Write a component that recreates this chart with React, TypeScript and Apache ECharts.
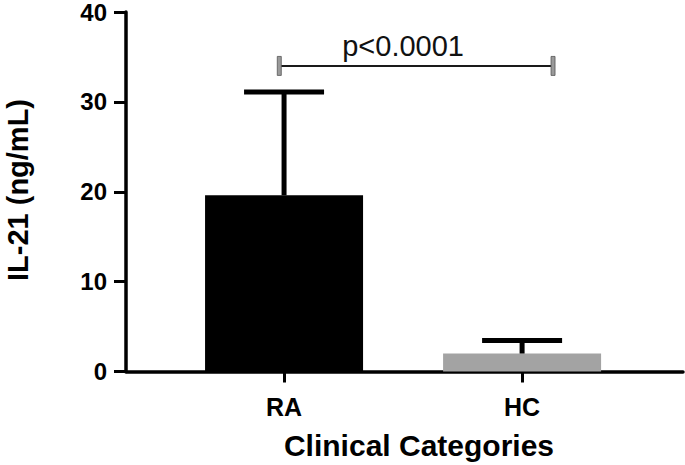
import React, { useEffect, useRef } from "react";
import * as echarts from "echarts";

const categories = ["RA", "HC"];
const categoryPositions = [1, 2];
const means = [19.6, 2.0];
const upperErrors = [31.1, 3.45];
const barColors = ["#000000", "#a3a3a3"];
const yTicks = [0, 10, 20, 30, 40];
const bracketX = [0.98, 2.13];
const bracketY = 34;
const pLabelX = 1.5;
const pLabel = "p<0.0001";
const yTitle = "IL-21 (ng/mL)";
const xTitle = "Clinical Categories";

const FONT = '"Liberation Sans", Arial, Helvetica, sans-serif';

export default function App() {
  const ref = useRef<HTMLDivElement>(null);
  useEffect(() => {
    if (!ref.current) return;
    const chart = echarts.init(ref.current, null, { renderer: "svg" });
    const barData = categoryPositions.map((x, i) => ({
      value: [x, means[i]],
      itemStyle: { color: barColors[i] },
    }));
    const errData = categoryPositions.map((x, i) => [x, means[i], upperErrors[i]]);
    const option: any = {
      animation: false,
      backgroundColor: "#ffffff",
      grid: { left: 126, right: 2, top: 10.5, bottom: 93.5 },
      xAxis: {
        type: "value",
        min: 0.336,
        max: 2.676,
        splitLine: { show: false },
        axisLine: { show: true, onZero: false, lineStyle: { color: "#000", width: 3.5 } },
        axisTick: { show: true, customValues: categoryPositions, length: 11, lineStyle: { color: "#000", width: 3 } },
        axisLabel: {
          customValues: categoryPositions,
          formatter: (v: number) => categories[categoryPositions.indexOf(Math.round(v))] ?? "",
          color: "#000",
          fontWeight: "bold",
          fontSize: 25,
          fontFamily: FONT,
          margin: 23,
        },
      },
      yAxis: {
        type: "value",
        min: yTicks[0],
        max: yTicks[yTicks.length - 1],
        interval: 10,
        splitLine: { show: false },
        axisLine: { show: true, lineStyle: { color: "#000", width: 3.5 } },
        axisTick: { show: true, length: 12, lineStyle: { color: "#000", width: 3 } },
        axisLabel: {
          color: "#000",
          fontWeight: "bold",
          fontSize: 24,
          fontFamily: FONT,
          margin: 19,
        },
      },
      series: [
        {
          type: "bar",
          data: barData,
          barWidth: 158,
          z: 2,
        },
        {
          type: "custom",
          z: 3,
          data: errData,
          renderItem: (params: any, api: any) => {
            const x = api.value(0);
            const base = api.coord([x, api.value(1)]);
            const top = api.coord([x, api.value(2)]);
            const half = 40;
            return {
              type: "group",
              children: [
                {
                  type: "line",
                  shape: { x1: base[0], y1: base[1], x2: top[0], y2: top[1] },
                  style: { stroke: "#000", lineWidth: 5 },
                },
                {
                  type: "line",
                  shape: { x1: top[0] - half, y1: top[1], x2: top[0] + half, y2: top[1] },
                  style: { stroke: "#000", lineWidth: 5 },
                },
              ],
            };
          },
        },
        {
          type: "custom",
          z: 4,
          data: [[bracketX[0], bracketX[1], bracketY, pLabelX]],
          renderItem: (params: any, api: any) => {
            const a = api.coord([api.value(0), api.value(2)]);
            const b = api.coord([api.value(1), api.value(2)]);
            const t = api.coord([api.value(3), api.value(2)]);
            return {
              type: "group",
              children: [
                {
                  type: "line",
                  shape: { x1: a[0], y1: a[1], x2: b[0], y2: b[1] },
                  style: { stroke: "#1a1a1a", lineWidth: 2 },
                },
                {
                  type: "rect",
                  shape: { x: a[0] - 2, y: a[1] - 9.5, width: 4, height: 19 },
                  style: { fill: "#9a9a9a", stroke: "#555", lineWidth: 0.8 },
                },
                {
                  type: "rect",
                  shape: { x: b[0] - 2, y: b[1] - 9.5, width: 4, height: 19 },
                  style: { fill: "#9a9a9a", stroke: "#555", lineWidth: 0.8 },
                },
                {
                  type: "text",
                  x: t[0],
                  y: t[1] - 5,
                  style: {
                    text: pLabel,
                    fill: "#111",
                    font: `normal 29px ${FONT}`,
                    align: "center",
                    verticalAlign: "bottom",
                  },
                },
              ],
            };
          },
        },
      ],
      graphic: [
        {
          type: "text",
          x: 18,
          y: 190,
          rotation: Math.PI / 2,
          style: {
            text: yTitle,
            fill: "#000",
            font: `bold 29px ${FONT}`,
            align: "center",
            verticalAlign: "middle",
          },
        },
        {
          type: "text",
          x: 419,
          y: 445,
          style: {
            text: xTitle,
            fill: "#000",
            font: `bold 30px ${FONT}`,
            align: "center",
            verticalAlign: "middle",
          },
        },
      ],
    };
    chart.setOption(option);
    return () => chart.dispose();
  }, []);
  return (
    <div
      ref={ref}
      style={{ position: "fixed", left: 0, top: 0, width: 685, height: 465, background: "#fff" }}
    />
  );
}
